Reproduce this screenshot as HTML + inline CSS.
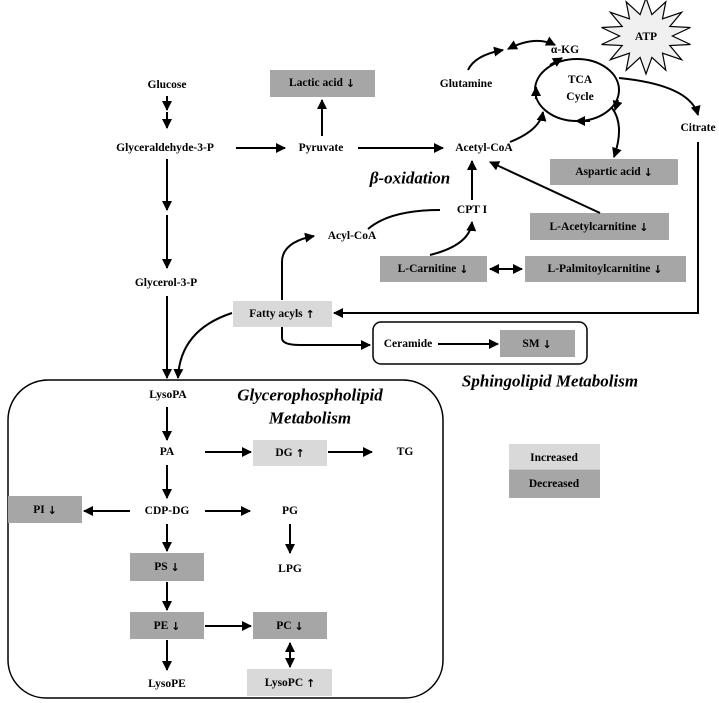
<!DOCTYPE html>
<html><head><meta charset="utf-8"><style>
html,body{margin:0;padding:0;background:#fff;}
svg{display:block;}
text{font-family:"Liberation Serif",serif;font-weight:bold;font-size:11.5px;fill:#000;text-anchor:middle;dominant-baseline:central;}
.it{font-style:italic;font-size:17px;}
.ar{font-family:"DejaVu Sans",sans-serif;font-size:11px;}
.dk{fill:#a6a6a6;}
.lt{fill:#d9d9d9;}
.ln{stroke:#000;stroke-width:2;fill:none;}
</style></head><body>
<svg width="719" height="703" viewBox="0 0 719 703" xmlns="http://www.w3.org/2000/svg">
<defs>
<marker id="a" viewBox="0 0 10 10" refX="9" refY="5" markerWidth="5" markerHeight="5" orient="auto-start-reverse" markerUnits="strokeWidth"><path d="M0,0 L10,5 L0,10 z" fill="#000"/></marker>
</defs>
<!-- big box -->
<path d="M48,380 H403 A40,40 0 0 1 443,420 V660 A38,38 0 0 1 405,698 H46 A38,38 0 0 1 8,660 V420 A40,40 0 0 1 48,380 Z" fill="#fff" stroke="#000" stroke-width="1.5"/>
<!-- sphingolipid box -->
<rect x="373" y="322" width="214" height="42" rx="8" fill="#fff" stroke="#000" stroke-width="1.5"/>
<!-- star -->
<polygon id="star" fill="#f0f0f0" stroke="#000" stroke-width="1.2" points=""/>
<text x="646" y="37" font-size="13">ATP</text>
<!-- boxes -->
<rect class="dk" x="270" y="70" width="105" height="27"/>
<rect class="dk" x="550" y="159" width="128" height="26"/>
<rect class="dk" x="530" y="213" width="139" height="27"/>
<rect class="dk" x="380" y="256" width="107" height="26"/>
<rect class="dk" x="525" y="256" width="161" height="26"/>
<rect class="lt" x="233" y="301" width="99" height="26"/>
<rect class="dk" x="500" y="330" width="75" height="27"/>
<rect class="lt" x="509" y="444" width="91" height="26"/>
<rect class="dk" x="509" y="470" width="91" height="28"/>
<rect class="lt" x="253" y="440" width="74" height="26"/>
<rect class="dk" x="8" y="496" width="74" height="27"/>
<rect class="dk" x="130" y="553" width="74" height="28"/>
<rect class="dk" x="130" y="612" width="74" height="27"/>
<rect class="dk" x="253" y="612" width="74" height="27"/>
<rect class="lt" x="247" y="669" width="85" height="27"/>
<!-- TCA ellipse -->
<ellipse cx="577" cy="90" rx="42" ry="31" class="ln"/>
<g marker-end="url(#a)" class="ln">
<path d="M550,65 L562,58"/>
<path d="M618,100 L615,110"/>
<path d="M590,121 L576,121"/>
<path d="M536,99 L536,87"/>
<!-- glucose -->
<line x1="167" y1="96" x2="167" y2="110"/>
<line x1="167" y1="112" x2="167" y2="128"/>
<line x1="236" y1="148" x2="285" y2="148"/>
<line x1="322" y1="136" x2="322" y2="100"/>
<line x1="358" y1="148" x2="443" y2="148"/>
<line x1="167" y1="159" x2="167" y2="210"/>
<line x1="167" y1="215" x2="167" y2="268"/>
<line x1="167" y1="296" x2="167" y2="378"/>
<path d="M232,313 Q180,330 178,378"/>
<path d="M282,300 V262 Q282,242 314,236"/>
<path d="M282,327 V338 Q282,345 300,345 L370,345"/>
<path d="M698,142 V313 H334"/>
<path d="M430,255 Q470,245 472,222"/>
<line x1="472" y1="200" x2="472" y2="161"/>
<line x1="600" y1="213" x2="490" y2="162"/>
<line x1="490" y1="269" x2="522" y2="269" marker-start="url(#a)"/>
<path d="M510,142 Q540,130 543,112"/>
<path d="M612,108 Q625,125 614,157"/>
<path d="M619,78 Q690,85 698,115"/>
<path d="M468,70 Q475,55 503,50"/>
<path d="M508,49 Q535,35 555,45" marker-start="url(#a)"/>
<line x1="438" y1="344" x2="498" y2="344"/>
<!-- inner -->
<line x1="167" y1="407" x2="167" y2="440"/>
<line x1="205" y1="452" x2="251" y2="452"/>
<line x1="328" y1="452" x2="372" y2="452"/>
<line x1="167" y1="465" x2="167" y2="498"/>
<line x1="130" y1="511" x2="84" y2="511"/>
<line x1="205" y1="511" x2="250" y2="511"/>
<line x1="167" y1="524" x2="167" y2="551"/>
<line x1="290" y1="524" x2="290" y2="553"/>
<line x1="167" y1="582" x2="167" y2="610"/>
<line x1="205" y1="626" x2="251" y2="626"/>
<line x1="167" y1="640" x2="167" y2="670"/>
<line x1="290" y1="643" x2="290" y2="667" marker-start="url(#a)"/>
</g>
<path d="M368,229 Q390,210 440,210" class="ln"/>
<line x1="509" y1="470" x2="600" y2="470" stroke="#999" stroke-width="0.5"/>
<!-- labels -->
<text x="167" y="85">Glucose</text>
<text x="165" y="148">Glyceraldehyde-3-P</text>
<text x="321" y="148">Pyruvate</text>
<text x="322" y="83">Lactic acid <tspan class="ar">↓</tspan></text>
<text x="484" y="148">Acetyl-CoA</text>
<text x="466" y="84">Glutamine</text>
<text x="565" y="50">α-KG</text>
<text x="580" y="80">TCA</text>
<text x="580" y="97">Cycle</text>
<text x="698" y="128">Citrate</text>
<text x="614" y="172">Aspartic acid <tspan class="ar">↓</tspan></text>
<text class="it" x="410" y="178">β-oxidation</text>
<text x="472" y="210">CPT I</text>
<text x="352" y="236">Acyl-CoA</text>
<text x="599" y="227">L-Acetylcarnitine <tspan class="ar">↓</tspan></text>
<text x="433" y="269">L-Carnitine <tspan class="ar">↓</tspan></text>
<text x="605" y="269">L-Palmitoylcarnitine <tspan class="ar">↓</tspan></text>
<text x="166" y="283">Glycerol-3-P</text>
<text x="282" y="314">Fatty acyls <tspan class="ar">↑</tspan></text>
<text x="408" y="344">Ceramide</text>
<text x="537" y="344">SM <tspan class="ar">↓</tspan></text>
<text class="it" x="550" y="381">Sphingolipid Metabolism</text>
<text x="554" y="458">Increased</text>
<text x="554" y="484">Decreased</text>
<text x="168" y="395">LysoPA</text>
<text class="it" x="310" y="395">Glycerophospholipid</text>
<text class="it" x="310" y="418">Metabolism</text>
<text x="167" y="452">PA</text>
<text x="290" y="453">DG <tspan class="ar">↑</tspan></text>
<text x="405" y="452">TG</text>
<text x="45" y="510">PI <tspan class="ar">↓</tspan></text>
<text x="167" y="511">CDP-DG</text>
<text x="290" y="511">PG</text>
<text x="167" y="567">PS <tspan class="ar">↓</tspan></text>
<text x="290" y="569">LPG</text>
<text x="167" y="626">PE <tspan class="ar">↓</tspan></text>
<text x="290" y="626">PC <tspan class="ar">↓</tspan></text>
<text x="167" y="684">LysoPE</text>
<text x="290" y="683">LysoPC <tspan class="ar">↑</tspan></text>
</svg>
<script>
var p=[],n=14,cx=646,cy=36;
for(var i=0;i<2*n;i++){var r=i%2?22:38,t=Math.PI*i/n-Math.PI/2;p.push((cx+r*1.2*Math.cos(t)).toFixed(1)+","+(cy+r*Math.sin(t)).toFixed(1));}
document.getElementById("star").setAttribute("points",p.join(" "));
</script>
</body></html>
